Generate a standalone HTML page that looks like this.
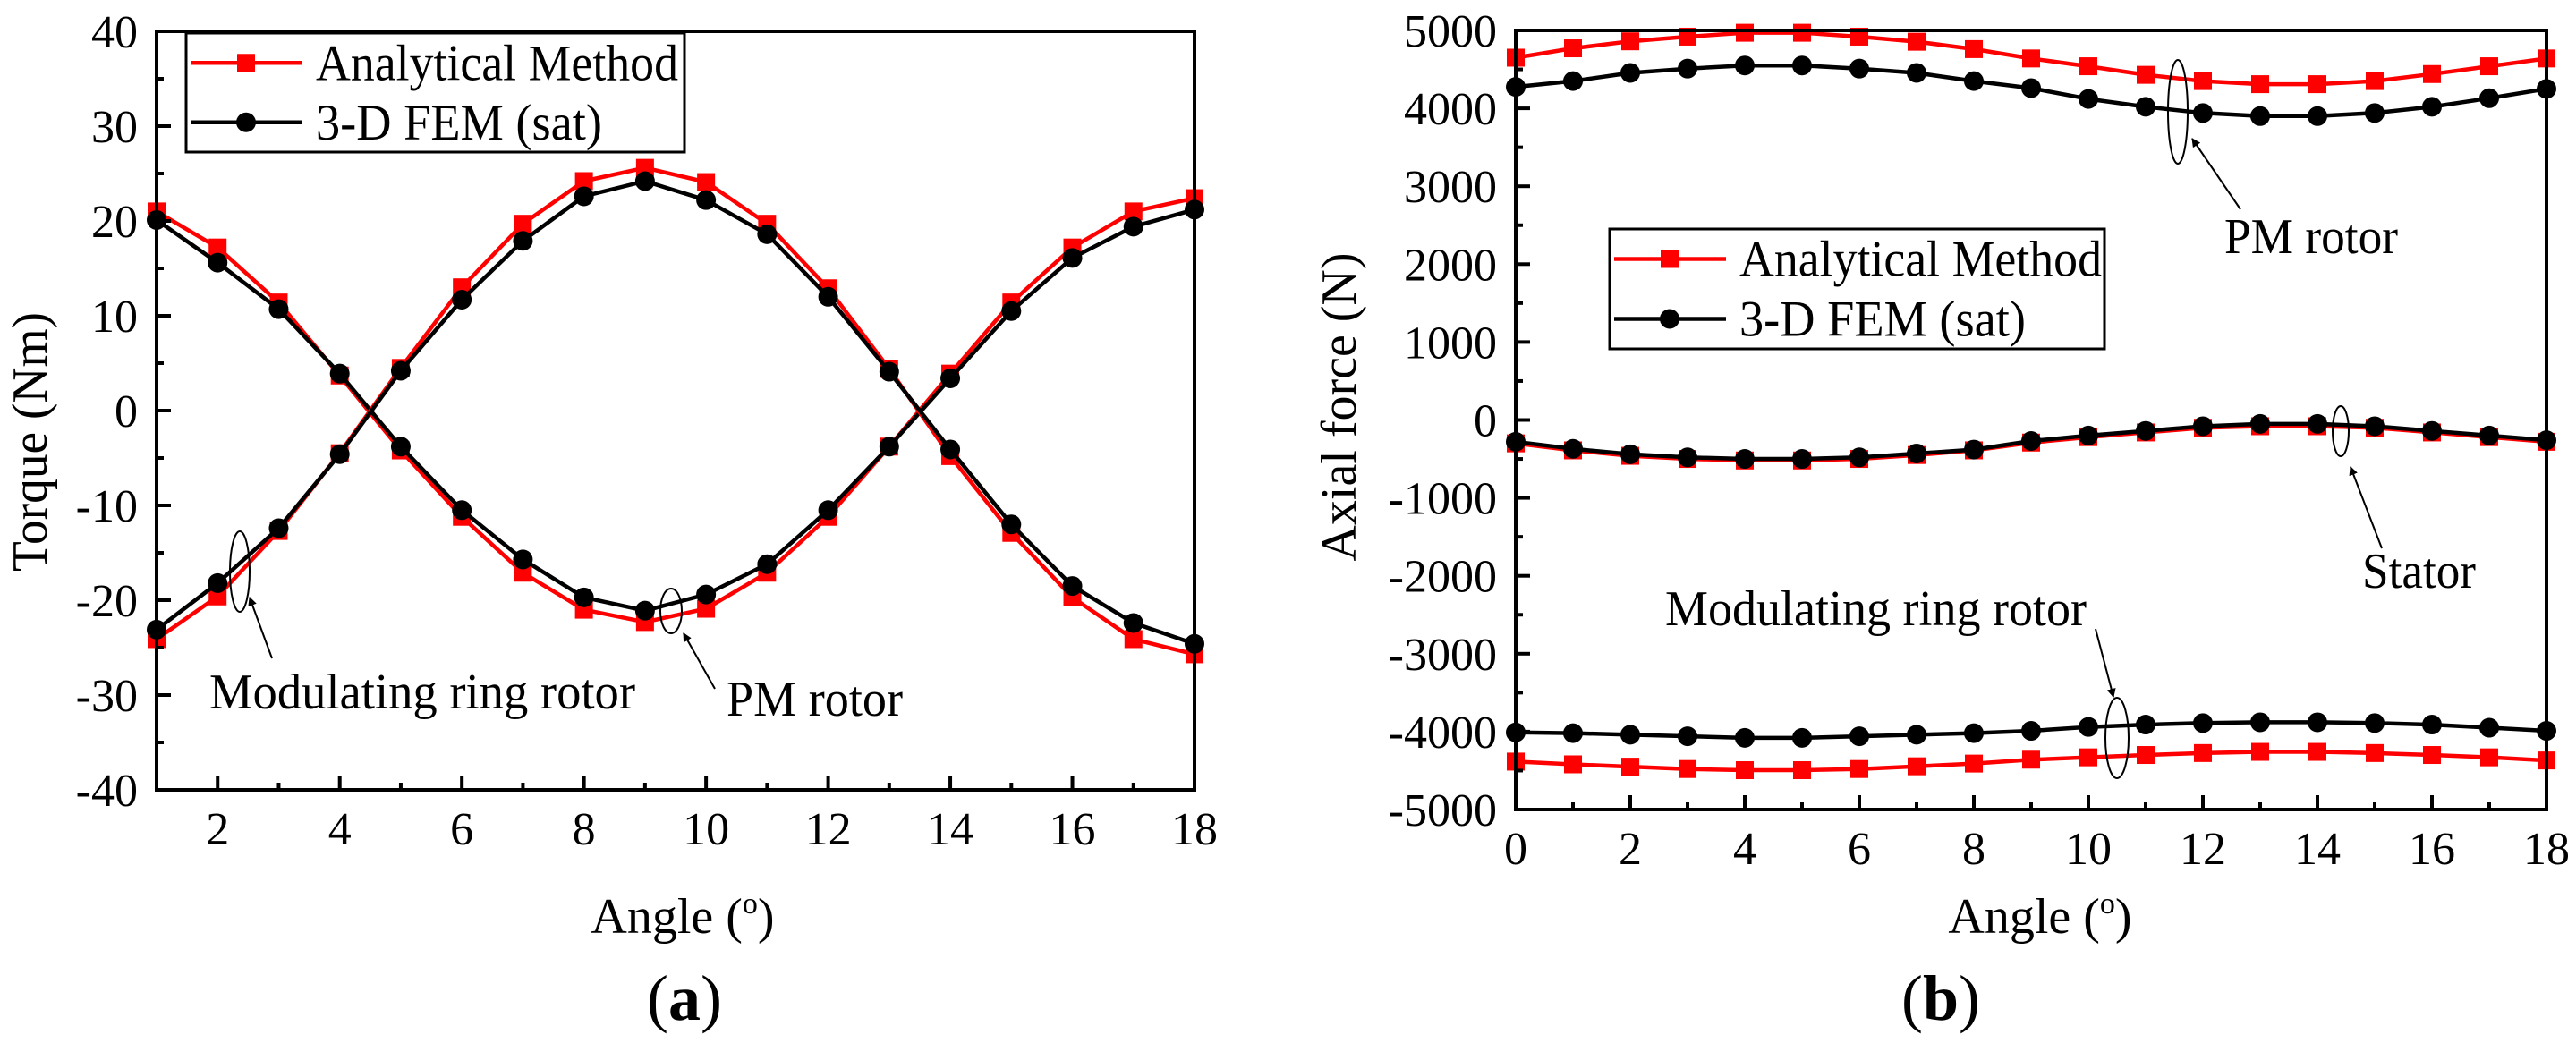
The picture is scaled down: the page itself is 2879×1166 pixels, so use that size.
<!DOCTYPE html>
<html><head><meta charset="utf-8">
<style>
html,body{margin:0;padding:0;background:#fff;}
svg{display:block;}
text{font-family:"Liberation Serif","DejaVu Serif","Times New Roman",serif;}
</style></head>
<body>
<svg id="fig" width="2879" height="1166" viewBox="0 0 2879 1166" xmlns="http://www.w3.org/2000/svg">
<defs>
<marker id="arr" markerWidth="10" markerHeight="10" refX="9" refY="5" orient="auto" markerUnits="userSpaceOnUse"><path d="M0,0 L10,5 L0,10 z" fill="#000"/></marker>
</defs>
<g id="pa"></g>
<g id="pb"></g>
</svg>
<script>
// Panel (a) data
const aAngles = [1,2,3,4,5,6,7,8,9,10,11,12,13,14,15,16,17,18];
const aPmAnalytical = [21,17.2,11.4,3.7,-4.2,-11.2,-17.1,-21,-22.3,-20.9,-17.1,-11.2,-3.8,3.9,11.4,17.2,21,22.4];
const aPmFem = [20.1,15.6,10.7,3.9,-3.8,-10.5,-15.7,-19.7,-21.1,-19.4,-16.2,-10.5,-3.8,3.4,10.5,16.1,19.4,21.2];
const aModAnalytical = [-24.1,-19.6,-12.7,-4.5,4.5,13,19.7,24.2,25.6,24.1,19.7,12.9,4.4,-4.8,-12.9,-19.7,-24.1,-25.7];
const aModFem = [-23.1,-18.2,-12.4,-4.6,4.2,11.7,17.9,22.6,24.2,22.2,18.6,12,4.1,-4.1,-12,-18.5,-22.4,-24.6];
const aXTicks = [2,4,6,8,10,12,14,16,18];
const aYTicks = [-40,-30,-20,-10,0,10,20,30,40];
// Panel (b) data
const bAngles = [0,1,2,3,4,5,6,7,8,9,10,11,12,13,14,15,16,17,18];
const bPmAnalytical = [4650,4770,4860,4920,4970,4970,4920,4855,4760,4640,4540,4430,4350,4310,4310,4350,4440,4540,4640];
const bPmFem = [4275,4350,4455,4510,4550,4550,4510,4455,4350,4260,4120,4020,3940,3900,3900,3940,4020,4130,4250];
const bStatorAnalytical = [-300,-390,-460,-500,-520,-520,-500,-450,-390,-290,-220,-160,-100,-80,-80,-100,-160,-220,-280];
const bStatorFem = [-280,-370,-440,-480,-500,-500,-480,-430,-380,-270,-200,-140,-80,-50,-50,-80,-140,-200,-260];
const bModAnalytical = [-4385,-4420,-4450,-4480,-4495,-4495,-4480,-4445,-4410,-4360,-4330,-4300,-4275,-4260,-4260,-4275,-4300,-4330,-4370];
const bModFem = [-4010,-4020,-4040,-4060,-4080,-4080,-4060,-4040,-4020,-3990,-3940,-3910,-3890,-3880,-3880,-3890,-3910,-3950,-3990];
const bXTicks = [0,2,4,6,8,10,12,14,16,18];
const bYTicks = [-5000,-4000,-3000,-2000,-1000,0,1000,2000,3000,4000,5000];

const NS="http://www.w3.org/2000/svg";
const FF="'Liberation Serif', 'DejaVu Serif', 'Times New Roman', serif";
function mk(parent,tag,attrs,text){const e=document.createElementNS(NS,tag);for(const k in attrs)e.setAttribute(k,attrs[k]);if(tag==='text')e.setAttribute('font-family',FF);if(text!==undefined)e.textContent=text;parent.appendChild(e);return e;}
function fit(t,w){t.setAttribute('textLength',w);t.setAttribute('lengthAdjust','spacingAndGlyphs');}

function panel(g,cfg){
  const L=cfg.L,R=cfg.R,T=cfg.T,B=cfg.B;
  const sx=v=>L+(v-cfg.xmin)/(cfg.xmax-cfg.xmin)*(R-L);
  const sy=v=>B-(v-cfg.ymin)/(cfg.ymax-cfg.ymin)*(B-T);
  cfg.series.forEach(s=>{
    const sg=mk(g,'g',{});
    
    
    const pts=s.y.map((v,i)=>sx(s.x[i]).toFixed(1)+','+sy(v).toFixed(1)).join(' ');
    mk(sg,'polyline',{points:pts,fill:'none',stroke:s.color,'stroke-width':4.5,'stroke-linejoin':'round'});
    s.y.forEach((v,i)=>{
      let m;
      if(s.shape==='sq') m=mk(sg,'rect',{x:sx(s.x[i])-10,y:sy(v)-10,width:20,height:20,fill:s.color});
      else m=mk(sg,'circle',{cx:sx(s.x[i]),cy:sy(v),r:11,fill:s.color});
      
      
    });
  });
  const fr=mk(g,'rect',{x:L,y:T,width:R-L,height:B-T,fill:'none',stroke:'#000','stroke-width':4});
  
  
  const xstep=cfg.xTicks[1]-cfg.xTicks[0];
  for(let v=Math.ceil(cfg.xmin);v<=cfg.xmax;v+=xstep/2){
    const major=cfg.xTicks.includes(v);
    mk(g,'line',{x1:sx(v),x2:sx(v),y1:B,y2:B-(major?16:8),stroke:'#000','stroke-width':4});
  }
  cfg.xTicks.forEach(v=>{
    const t=mk(g,'text',{x:sx(v),y:B+61,'font-size':52,'text-anchor':'middle'},String(v));
    
    
  });
  const ystep=cfg.yTicks[1]-cfg.yTicks[0];
  for(let v=cfg.ymin;v<=cfg.ymax;v+=ystep/2){
    const major=cfg.yTicks.includes(v);
    mk(g,'line',{x1:L,x2:L+(major?16:8),y1:sy(v),y2:sy(v),stroke:'#000','stroke-width':4});
  }
  cfg.yTicks.forEach(v=>{
    const t=mk(g,'text',{x:L-21,y:sy(v)+18,'font-size':52,'text-anchor':'end'},String(v));
    
    
  });
  const xt=mk(g,'text',{x:cfg.xtX,y:1043,'font-size':56,'text-anchor':'middle'});
  
  
  xt.innerHTML='Angle (<tspan dy="-22" font-size="34">o</tspan><tspan dy="22">)</tspan>';
  const yt=mk(g,'text',{x:0,y:0,'font-size':56,'text-anchor':'middle',transform:`translate(${cfg.ytX},${cfg.ytY}) rotate(-90)`},cfg.ytitle);
  fit(yt,cfg.ytW);
  
  
  const pl=mk(g,'text',{x:cfg.labX,y:1140,'font-size':72,'text-anchor':'middle'});
  
  
  pl.innerHTML='(<tspan font-weight="bold">'+cfg.lab+'</tspan>)';
  const lg=mk(g,'g',{});
  
  
  const lx=cfg.leg[0],ly=cfg.leg[1],lw=cfg.leg[2],lh=cfg.leg[3];
  mk(lg,'rect',{x:lx,y:ly,width:lw,height:lh,fill:'#fff',stroke:'#000','stroke-width':3});
  const r1=ly+lh*0.25,r2=ly+lh*0.75;
  const e1=mk(lg,'g',{});
  
  
  mk(e1,'line',{x1:lx+5,x2:lx+130,y1:r1,y2:r1,stroke:'#f00','stroke-width':4.5});
  mk(e1,'rect',{x:lx+57,y:r1-10,width:20,height:20,fill:'#f00'});
  fit(mk(e1,'text',{x:lx+145,y:r1+19,'font-size':57},'Analytical Method'),405);
  const e2=mk(lg,'g',{});
  
  
  mk(e2,'line',{x1:lx+5,x2:lx+130,y1:r2,y2:r2,stroke:'#000','stroke-width':4.5});
  mk(e2,'circle',{cx:lx+67,cy:r2,r:11,fill:'#000'});
  fit(mk(e2,'text',{x:lx+145,y:r2+19,'font-size':57},'3-D FEM (sat)'),320);
  cfg.ann.forEach(a=>{
    const ag=mk(g,'g',{});
    
    
    mk(ag,'ellipse',{cx:a.e[0],cy:a.e[1],rx:a.e[2],ry:a.e[3],fill:'none',stroke:'#000','stroke-width':2});
    mk(ag,'line',{x1:a.a[0],y1:a.a[1],x2:a.a[2],y2:a.a[3],stroke:'#000','stroke-width':2,'marker-end':'url(#arr)'});
    fit(mk(ag,'text',{x:a.t[0],y:a.t[1],'font-size':56},a.text),a.w);
  });
}

panel(document.getElementById('pa'),{
  L:175,R:1335,T:35,B:883,xmin:1,xmax:18,ymin:-40,ymax:40,
  xTicks:aXTicks,yTicks:aYTicks,xtX:763,ytX:52,ytY:494,ytW:290,ytitle:'Torque (Nm)',labX:765,lab:'a',
  leg:[208,37,557,133],
  series:[
    {name:'pm-rotor-analytical',x:aAngles,y:aPmAnalytical,color:'#f00',shape:'sq'},
    {name:'pm-rotor-fem',x:aAngles,y:aPmFem,color:'#000',shape:'ci'},
    {name:'modulating-rotor-analytical',x:aAngles,y:aModAnalytical,color:'#f00',shape:'sq'},
    {name:'modulating-rotor-fem',x:aAngles,y:aModFem,color:'#000',shape:'ci'}
  ],
  ann:[
    {name:'modulating-ring-annotation',e:[268,639,11,45],a:[304,736,279,668],t:[234,792],w:476,text:'Modulating ring rotor'},
    {name:'pm-rotor-annotation',e:[750,683,12,25],a:[799,770,764,708],t:[812,800],w:197,text:'PM rotor'}
  ]
});
panel(document.getElementById('pb'),{
  L:1694,R:2846,T:34,B:905,xmin:0,xmax:18,ymin:-5000,ymax:5000,
  xTicks:bXTicks,yTicks:bYTicks,xtX:2280,ytX:1515,ytY:455,ytW:345,ytitle:'Axial force (N)',labX:2169,lab:'b',
  leg:[1799,256,553,134],
  series:[
    {name:'pm-rotor-analytical',x:bAngles,y:bPmAnalytical,color:'#f00',shape:'sq'},
    {name:'pm-rotor-fem',x:bAngles,y:bPmFem,color:'#000',shape:'ci'},
    {name:'stator-analytical',x:bAngles,y:bStatorAnalytical,color:'#f00',shape:'sq'},
    {name:'stator-fem',x:bAngles,y:bStatorFem,color:'#000',shape:'ci'},
    {name:'modulating-rotor-analytical',x:bAngles,y:bModAnalytical,color:'#f00',shape:'sq'},
    {name:'modulating-rotor-fem',x:bAngles,y:bModFem,color:'#000',shape:'ci'}
  ],
  ann:[
    {name:'pm-rotor-annotation',e:[2434,125,11,58],a:[2504,234,2450,155],t:[2486,283],w:194,text:'PM rotor'},
    {name:'stator-annotation',e:[2616,482,9,28],a:[2662,613,2627,522],t:[2640,657],w:127,text:'Stator'},
    {name:'modulating-ring-annotation',e:[2366,825,13,45],a:[2342,703,2362,779],t:[1861,699],w:471,text:'Modulating ring rotor'}
  ]
});
</script>
</body></html>
